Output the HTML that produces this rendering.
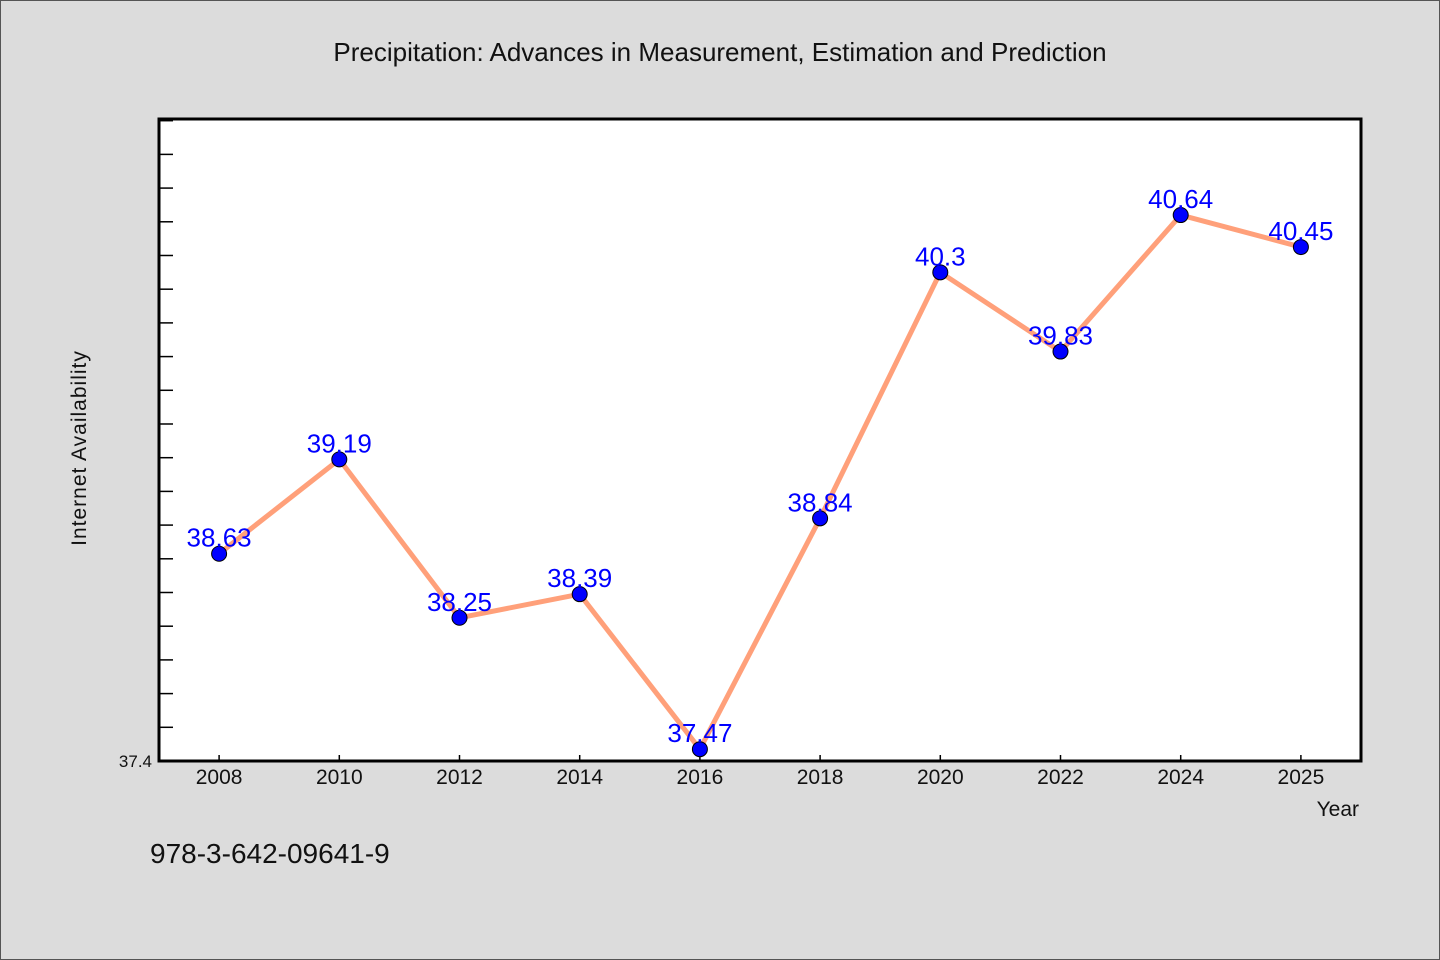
<!DOCTYPE html>
<html><head><meta charset="utf-8"><style>
body{margin:0;background:#dcdcdc}
svg{display:block}
text{font-family:"WenQuanYi Zen Hei","Liberation Sans",sans-serif}
</style></head><body>
<svg id="c" width="1440" height="960">
<rect x="0.5" y="0.5" width="1439" height="959" fill="#dcdcdc" stroke="#555"/>
<text x="720" y="61" font-size="26" text-anchor="middle" fill="#111">Precipitation: Advances in Measurement, Estimation and Prediction</text>
<rect x="159" y="119" width="1202" height="642" fill="#fff" stroke="#000" stroke-width="3"/>
<g id="ticks"></g>
<g id="series"></g>
<text x="86" y="448" font-size="21" text-anchor="middle" fill="#111" transform="rotate(-90 86 448)" letter-spacing="1">Internet Availability</text>
<text x="1359" y="816" font-size="21" text-anchor="end" fill="#111">Year</text>
<text x="150" y="863" font-size="28" fill="#111">978-3-642-09641-9</text>
</svg>
<script>
const categories=["2008","2010","2012","2014","2016","2018","2020","2022","2024","2025"];
const values=[38.63,39.19,38.25,38.39,37.47,38.84,40.3,39.83,40.64,40.45];
const valueLabels=["38.63","39.19","38.25","38.39","37.47","38.84","40.3","39.83","40.64","40.45"];
const yMin=37.4,yMax=41.21,yTickStep=0.2;
const L=159,R=1361,T=119,B=761;
const NS="http://www.w3.org/2000/svg";
const step=(R-L)/categories.length;
function x(i){return L+step*(i+0.5);}
function y(v){return B-(v-yMin)/(yMax-yMin)*(B-T);}
function mk(tag,a,p){const e=document.createElementNS(NS,tag);for(const k in a)e.setAttribute(k,a[k]);p.appendChild(e);return e;}
const tg=document.getElementById('ticks');
for(let v=yMin+yTickStep;v<yMax;v+=yTickStep){
 const l=mk('line',{x1:L,x2:L+14,y1:y(v),y2:y(v),stroke:'#000','stroke-width':1.5},tg);
 
 
}
const yl=mk('text',{x:152,y:B+6,'font-size':17,'text-anchor':'end',fill:'#111'},tg);
yl.textContent=yMin.toFixed(1);


categories.forEach((c,i)=>{
 const t=mk('line',{x1:x(i),x2:x(i),y1:B,y2:B-6,stroke:'#000','stroke-width':1.5},tg);
 
 
 const lb=mk('text',{x:x(i),y:B+23,'font-size':21,'text-anchor':'middle',fill:'#111'},tg);
 lb.textContent=c;
 
 
});
const sg=document.getElementById('series');
const pl=mk('polyline',{points:values.map((v,i)=>x(i)+','+y(v)).join(' '),fill:'none',stroke:'#ffa07a','stroke-width':5,'stroke-linejoin':'round'},sg);


values.forEach((v,i)=>{
 const p=mk('circle',{cx:x(i),cy:y(v),r:7.5,fill:'#0000ff',stroke:'#000','stroke-width':1},sg);
 
 
});
values.forEach((v,i)=>{
 const t=mk('text',{x:x(i),y:y(v)-7,'font-size':26,'text-anchor':'middle',fill:'#0000ff'},sg);
 t.textContent=valueLabels[i];
 
 
});
</script>
</body></html>
